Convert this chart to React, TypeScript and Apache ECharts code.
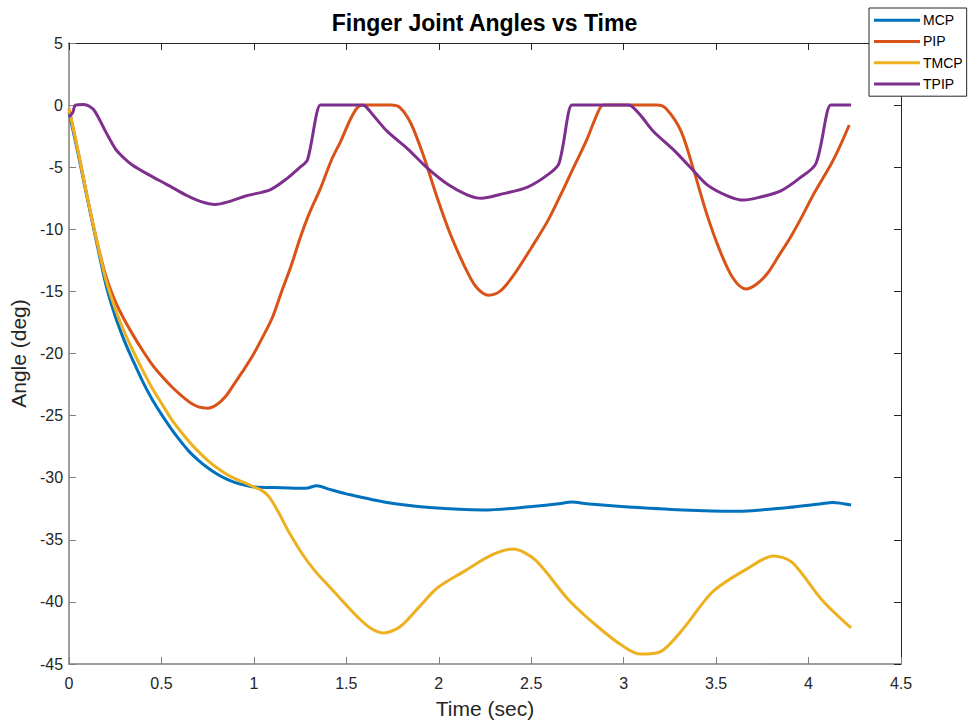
import React, { useEffect, useRef } from "react";
import * as echarts from "echarts";

const TITLE = "Finger Joint Angles vs Time";
const X_NAME = "Time (sec)";
const Y_NAME = "Angle (deg)";
const SERIES_NAMES = ["MCP", "PIP", "TMCP", "TPIP"];
const COLORS = ["#0072BD", "#D95319", "#EDB120", "#7E2F8E"];

const MCP_T = [0, 0.05, 0.1, 0.15, 0.2, 0.25, 0.3, 0.35, 0.4, 0.45, 0.5, 0.55, 0.6, 0.65, 0.7, 0.75, 0.8, 0.85, 0.9, 0.95, 1.0, 1.15, 1.28, 1.34, 1.4, 1.5, 1.72, 1.95, 2.24, 2.52, 2.65, 2.72, 2.8, 2.97, 3.32, 3.61, 3.89, 4.07, 4.13, 4.23];
const MCP_V = [-0.6, -4.0, -7.6, -11.1, -14.5, -17.0, -19.0, -20.7, -22.3, -23.7, -24.9, -26.0, -27.0, -27.9, -28.6, -29.2, -29.7, -30.1, -30.4, -30.6, -30.75, -30.8, -30.85, -30.65, -30.9, -31.3, -32.0, -32.4, -32.6, -32.3, -32.1, -31.95, -32.1, -32.3, -32.6, -32.7, -32.4, -32.1, -32.0, -32.2];

const PIP_T = [0, 0.05, 0.1, 0.15, 0.2, 0.25, 0.3, 0.35, 0.4, 0.45, 0.5, 0.55, 0.6, 0.65, 0.7, 0.75, 0.8, 0.85, 0.9, 0.95, 1.0, 1.05, 1.1, 1.15, 1.2, 1.25, 1.3, 1.36, 1.42, 1.47, 1.52, 1.56, 1.59, 1.74, 1.79, 1.85, 1.92, 1.99, 2.06, 2.14, 2.2, 2.27, 2.33, 2.4, 2.5, 2.59, 2.66, 2.73, 2.8, 2.86, 2.89, 3.18, 3.23, 3.31, 3.38, 3.45, 3.52, 3.59, 3.66, 3.72, 3.78, 3.84, 3.9, 3.96, 4.03, 4.12, 4.17, 4.22];
const PIP_V = [-0.3, -3.8, -7.5, -10.9, -13.8, -15.8, -17.3, -18.6, -19.8, -20.9, -21.8, -22.6, -23.3, -23.9, -24.3, -24.4, -24.1, -23.4, -22.3, -21.2, -20.0, -18.6, -17.1, -15.0, -13.0, -10.7, -8.7, -6.7, -4.4, -2.9, -1.2, -0.2, 0, 0, -0.2, -1.5, -4.2, -7.4, -10.3, -13.0, -14.6, -15.3, -15.0, -13.8, -11.5, -9.3, -7.2, -5.0, -2.8, -0.6, 0, 0, -0.3, -2.1, -5.3, -8.8, -11.7, -13.9, -14.8, -14.4, -13.5, -12.1, -10.7, -9.1, -7.1, -4.8, -3.3, -1.6];

const TMCP_T = [0, 0.05, 0.1, 0.15, 0.2, 0.25, 0.3, 0.35, 0.4, 0.45, 0.5, 0.55, 0.6, 0.65, 0.7, 0.75, 0.8, 0.85, 0.9, 0.95, 1.0, 1.04, 1.08, 1.13, 1.19, 1.26, 1.33, 1.41, 1.49, 1.56, 1.63, 1.7, 1.79, 1.9, 1.99, 2.13, 2.29, 2.4, 2.52, 2.7, 2.86, 3.0, 3.09, 3.2, 3.32, 3.48, 3.66, 3.81, 3.91, 4.07, 4.23];
const TMCP_V = [-0.3, -3.8, -7.5, -10.9, -14.1, -16.4, -18.3, -19.9, -21.4, -22.8, -24.0, -25.2, -26.2, -27.1, -27.9, -28.6, -29.2, -29.7, -30.1, -30.4, -30.75, -31.0, -31.5, -32.7, -34.4, -36.1, -37.5, -38.8, -40.1, -41.2, -42.1, -42.5, -42.0, -40.3, -38.9, -37.6, -36.2, -35.75, -36.6, -39.8, -42.0, -43.6, -44.2, -44.0, -42.2, -39.2, -37.4, -36.3, -36.8, -39.8, -42.1];

const TPIP_T = [0, 0.02, 0.035, 0.08, 0.11, 0.14, 0.19, 0.23, 0.26, 0.3, 0.34, 0.43, 0.53, 0.64, 0.71, 0.79, 0.87, 0.96, 1.09, 1.18, 1.25, 1.29, 1.36, 1.38, 1.58, 1.6, 1.65, 1.72, 1.83, 1.94, 2.05, 2.15, 2.23, 2.33, 2.48, 2.59, 2.65, 2.72, 2.74, 3.02, 3.04, 3.09, 3.16, 3.27, 3.36, 3.45, 3.56, 3.65, 3.74, 3.85, 3.95, 4.04, 4.12, 4.14, 4.23];
const TPIP_V = [-0.95, -0.6, 0, 0.05, -0.1, -0.5, -1.9, -3.0, -3.7, -4.3, -4.8, -5.6, -6.4, -7.3, -7.75, -8.0, -7.75, -7.3, -6.8, -5.9, -5.0, -4.4, 0, 0, 0, -0.05, -0.9, -2.1, -3.5, -5.1, -6.4, -7.2, -7.5, -7.2, -6.6, -5.6, -4.7, 0, 0, 0, -0.05, -0.8, -2.1, -3.6, -5.0, -6.4, -7.3, -7.65, -7.4, -6.9, -5.9, -4.7, 0, 0, 0];

const X_MIN = 0;
const X_MAX = 4.5;
const X_STEP = 0.5;
const Y_MIN = -45;
const Y_MAX = 5;
const Y_STEP = 5;

const FONT = "'Liberation Sans', Arial, Helvetica, sans-serif";

function pairs(t: number[], v: number[]) {
  return t.map((x, i) => [x, v[i]]);
}

export default function App() {
  const ref = useRef<HTMLDivElement>(null);
  useEffect(() => {
    if (!ref.current) return;
    const chart = echarts.init(ref.current, undefined, { renderer: "svg" });
    const datasets = [pairs(MCP_T, MCP_V), pairs(PIP_T, PIP_V), pairs(TMCP_T, TMCP_V), pairs(TPIP_T, TPIP_V)];
    const lightAxis = "#7f7f7f";
    const darkAxis = "#262626";
    chart.setOption({
      animation: false,
      backgroundColor: "#ffffff",
      title: {
        text: TITLE,
        left: "center",
        top: 6,
        textStyle: { fontFamily: FONT, fontSize: 23, fontWeight: "bold", color: "#000" },
      },
      legend: {
        orient: "vertical",
        left: 869,
        top: 8,
        padding: [1.5, 4, 1.5, 5],
        icon: "rect",
        itemWidth: 46,
        itemHeight: 3,
        itemGap: 0,
        backgroundColor: "#ffffff",
        borderColor: darkAxis,
        borderWidth: 1,
        borderRadius: 0,
        textStyle: { fontFamily: FONT, fontSize: 14, lineHeight: 21.3, color: "#000", padding: [0, 0, 0, -2] },
        data: SERIES_NAMES,
      },
      grid: { left: 68, right: 68, top: 43, bottom: 60, containLabel: false },
      xAxis: [
        {
          type: "value",
          min: X_MIN,
          max: X_MAX,
          interval: X_STEP,
          position: "bottom",
          name: X_NAME,
          nameLocation: "middle",
          nameGap: 34,
          nameTextStyle: { fontFamily: FONT, fontSize: 21, color: "#262626" },
          axisLine: { show: true, onZero: false, lineStyle: { color: lightAxis, width: 1.5 } },
          axisTick: { show: true, inside: true, length: 7, lineStyle: { color: lightAxis } },
          axisLabel: { fontFamily: FONT, fontSize: 16, color: "#262626", margin: 11 },
          splitLine: { show: false },
        },
        {
          type: "value",
          min: X_MIN,
          max: X_MAX,
          interval: X_STEP,
          position: "top",
          axisLine: { show: true, onZero: false, lineStyle: { color: darkAxis, width: 1 } },
          axisTick: { show: true, inside: true, length: 7, lineStyle: { color: darkAxis } },
          axisLabel: { show: false },
          splitLine: { show: false },
        },
      ],
      yAxis: [
        {
          type: "value",
          min: Y_MIN,
          max: Y_MAX,
          interval: Y_STEP,
          position: "left",
          name: Y_NAME,
          nameLocation: "middle",
          nameGap: 36,
          nameTextStyle: { fontFamily: FONT, fontSize: 21, color: "#262626" },
          axisLine: { show: true, onZero: false, lineStyle: { color: lightAxis, width: 1.5 } },
          axisTick: { show: true, inside: true, length: 7, lineStyle: { color: lightAxis } },
          axisLabel: { fontFamily: FONT, fontSize: 16, color: "#262626", margin: 6 },
          splitLine: { show: false },
        },
        {
          type: "value",
          min: Y_MIN,
          max: Y_MAX,
          interval: Y_STEP,
          position: "right",
          axisLine: { show: true, onZero: false, lineStyle: { color: darkAxis, width: 1 } },
          axisTick: { show: true, inside: true, length: 7, lineStyle: { color: darkAxis } },
          axisLabel: { show: false },
          splitLine: { show: false },
        },
      ],
      series: SERIES_NAMES.map((name, i) => ({
        name,
        type: "line",
        xAxisIndex: 0,
        yAxisIndex: 0,
        data: datasets[i],
        smooth: 0.3,
        symbol: "none",
        showSymbol: false,
        color: COLORS[i],
        lineStyle: { color: COLORS[i], width: 3 },
        z: 2 + i,
      })),
    });
    return () => chart.dispose();
  }, []);
  return (
    <div
      ref={ref}
      style={{ position: "fixed", left: 0, top: 0, width: 969, height: 724, background: "#fff" }}
    />
  );
}
